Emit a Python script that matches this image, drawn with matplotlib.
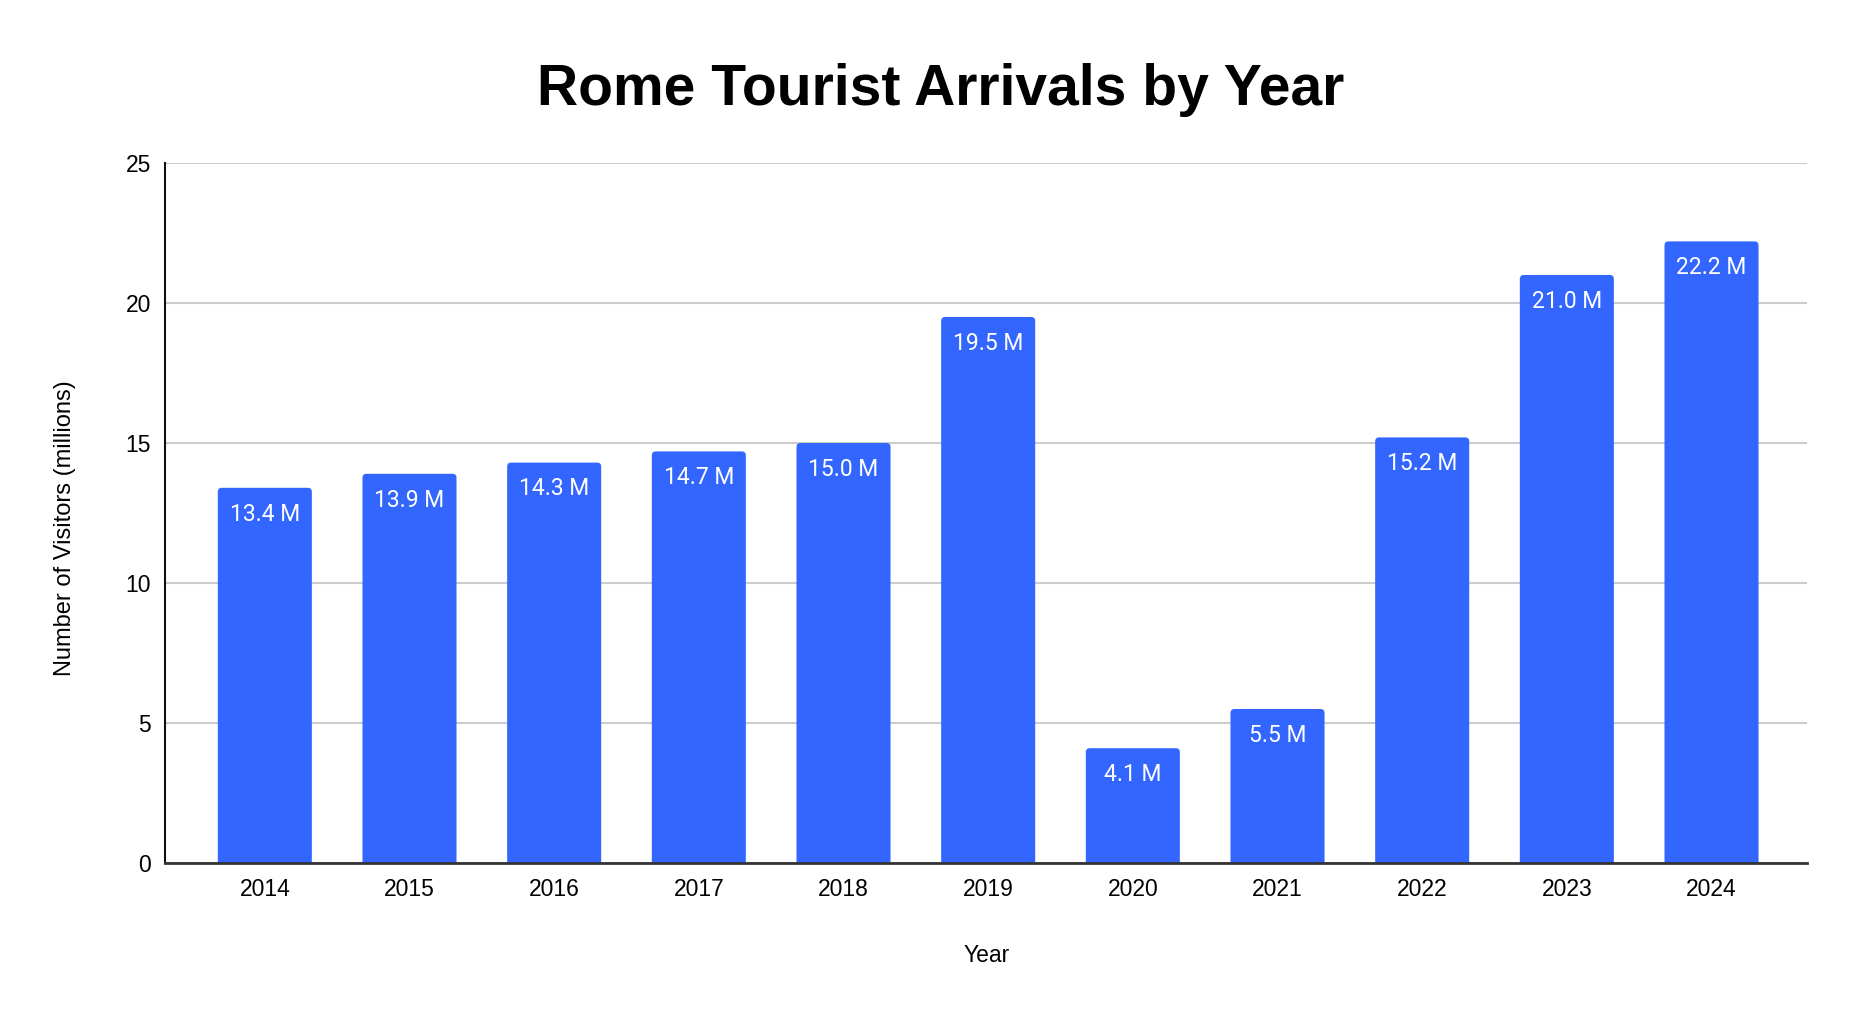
import matplotlib
matplotlib.use("Agg")
import matplotlib.pyplot as plt
from matplotlib.patches import FancyBboxPatch

years = ["2014", "2015", "2016", "2017", "2018", "2019", "2020", "2021", "2022", "2023", "2024"]
visitors = [13.4, 13.9, 14.3, 14.7, 15.0, 19.5, 4.1, 5.5, 15.2, 21.0, 22.2]
bar_labels = ["13.4 M", "13.9 M", "14.3 M", "14.7 M", "15.0 M", "19.5 M", "4.1 M", "5.5 M", "15.2 M", "21.0 M", "22.2 M"]
y_ticks = [0, 5, 10, 15, 20, 25]

W, H = 1858, 1018
fig = plt.figure(figsize=(W / 100, H / 100), dpi=100)
left_px, right_px, top_px, bot_px = 165, 1807, 163, 863
ax = fig.add_axes([left_px / W, 1 - bot_px / H, (right_px - left_px) / W, (bot_px - top_px) / H])

x = list(range(len(years)))
bars = ax.bar(x, visitors, width=0.65, color="#3366ff", zorder=3)

ax.set_xlim(-0.69, len(years) - 1 + 0.66)
ax.set_ylim(0, 25)

# rounded top corners
xunit = (right_px - left_px) / (ax.get_xlim()[1] - ax.get_xlim()[0])
yunit = (bot_px - top_px) / 25.0
r_px = 4.0
for b in bars:
    bx, bw, bh = b.get_x(), b.get_width(), b.get_height()
    b.set_visible(False)
    p = FancyBboxPatch((bx, -1.0), bw, bh + 1.0,
                       boxstyle=f"round,pad=0,rounding_size={r_px / xunit}",
                       mutation_aspect=xunit / yunit,
                       facecolor="#3366ff", edgecolor="none", zorder=3)
    ax.add_patch(p)

for xi, v, lab in zip(x, visitors, bar_labels):
    ax.annotate(lab, (xi, v), xytext=(0, -19), textcoords="offset points",
                ha="center", va="center", color="white", fontsize=16.5,
                family="Roboto", zorder=4)

ax.set_yticks(y_ticks)
ax.set_yticklabels([str(t) for t in y_ticks], family="Liberation Sans", fontsize=16.5)
ax.set_xticks(x)
ax.set_xticklabels(years, family="Liberation Sans", fontsize=16.5)
ax.tick_params(axis="both", length=0)
ax.tick_params(axis="x", pad=11)
ax.tick_params(axis="y", pad=10)

ax.grid(axis="y", color="#cccccc", linewidth=1.5, zorder=0)
for s in ["top", "right"]:
    ax.spines[s].set_visible(False)
ax.spines["left"].set_color("#111111")
ax.spines["left"].set_linewidth(1.5)
ax.spines["bottom"].set_color("#333333")
ax.spines["bottom"].set_linewidth(2)
ax.spines["bottom"].set_zorder(5)

fig.text(987 / W, 1 - 955 / H, "Year", ha="center", va="center",
         family="Liberation Sans", fontsize=16.5)
fig.text(65 / W, 1 - 528 / H, "Number of Visitors (millions)", ha="center", va="center",
         rotation=90, family="Liberation Sans", fontsize=17)
fig.text(941 / W, 1 - 90 / H, "Rome Tourist Arrivals by Year", ha="center", va="center",
         family="Liberation Sans", fontweight="bold", fontsize=41)

fig.savefig("out.png", dpi=100, facecolor="white")
